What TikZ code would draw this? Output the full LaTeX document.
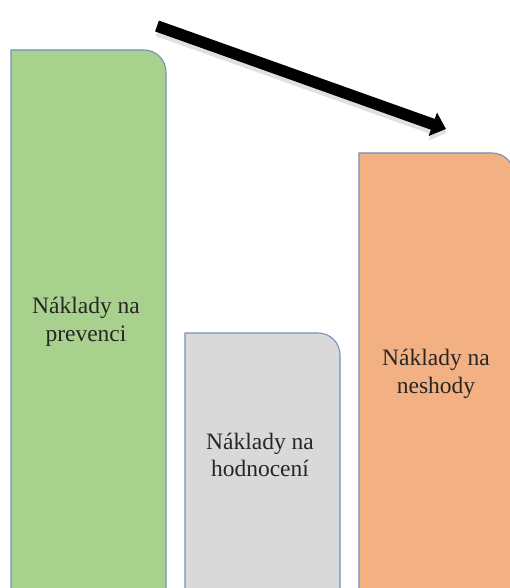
\documentclass[tikz,border=0pt]{standalone}
\usepackage{fontspec}
\setmainfont{Liberation Serif}
\usetikzlibrary{arrows.meta}
\definecolor{boxgreen}{HTML}{A9D18E}
\definecolor{boxgray}{HTML}{D9D9D9}
\definecolor{boxorange}{HTML}{F3B183}
\definecolor{boxline}{HTML}{7391B8}
\begin{document}
\begin{tikzpicture}[x=1pt,y=-1pt,
  bar/.style={draw=boxline,line width=1.1pt},
  lbl/.style={align=center,font=\fontsize{23.5}{27.5}\selectfont,text=black!85}]
\useasboundingbox (0,0) rectangle (510,588);
\begin{scope}
\clip (0,0) rectangle (510,588);
% bars: square top-left, rounded top-right
\draw[bar,fill=boxgreen] (11,620) -- (11,50) -- (144,50) arc[start angle=-90,end angle=0,radius=22] -- (166,620);
\draw[bar,fill=boxgray] (185,620) -- (185,333) -- (318,333) arc[start angle=-90,end angle=0,radius=22] -- (340,620);
\draw[bar,fill=boxorange] (359,620) -- (359,153) -- (492,153) arc[start angle=-90,end angle=0,radius=22] -- (514,620);
\end{scope}
\node[lbl] (prev) at (86,322) {Náklady na\\prevenci};
\node[lbl] (hodn) at (260,455) {Náklady na\\hodnocení};
\node[lbl] (nesh) at (436,374) {Náklady na\\neshody};
% arrow
\coordinate (a1) at (157,26);
\coordinate (a2) at (446,129);
\draw[black!12,line width=13pt,-{Triangle[length=15pt,width=26pt]}] ([shift={(1,4)}]a1) -- ([shift={(1,4)}]a2);
\draw[black,line width=11.5pt,-{Triangle[length=14pt,width=24pt]}] (a1) -- (a2);
\end{tikzpicture}
\end{document}
